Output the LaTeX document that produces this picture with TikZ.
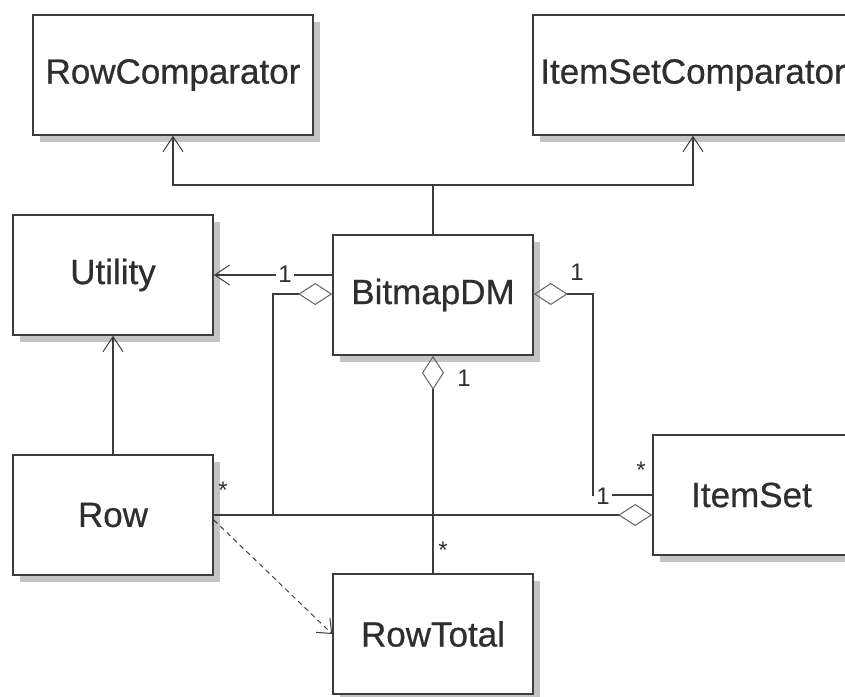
\documentclass[tikz,border=0pt]{standalone}
\usepackage{fontspec}
\setmainfont{Liberation Sans}
\newfontfamily\clsfont[FakeBold=0.6]{Liberation Sans}
\usetikzlibrary{arrows.meta,shadows}
\definecolor{ln}{HTML}{3C3C3C}
\definecolor{txt}{HTML}{2E2E2E}
\definecolor{shd}{HTML}{C4C4C4}
\tikzset{
  cls/.style={draw=ln, line width=1.6pt, fill=white, minimum height=120pt, minimum width=200pt,
    inner sep=0pt, text=txt, font=\clsfont\fontsize{35}{40}\selectfont,
    drop shadow={shadow xshift=7pt, shadow yshift=-7pt, fill=shd, opacity=1}},
  conn/.style={draw=ln, line width=1.3pt},
  navarrow/.style={conn, -{Straight Barb[length=15pt,width=20pt,line width=1pt]}},
  depline/.style={conn, line width=1pt, dash pattern=on 5pt off 4pt, -{Straight Barb[length=12pt,width=20pt,line width=1pt]}},
  aggstart/.style={conn, {Diamond[open,length=34pt,width=22pt,line width=1pt,color=ln!80]}-},
  aggend/.style={conn, -{Diamond[open,length=34pt,width=22pt,line width=1pt,color=ln!80]}},
  mult/.style={text=txt, font=\fontsize{24}{26}\selectfont, inner sep=1pt},
  multgap/.style={mult, fill=white, inner sep=2pt},
}
\begin{document}
\begin{tikzpicture}[x=1pt,y=-1pt]
\useasboundingbox (0,0) rectangle (845,696);
\fill[white] (0,0) rectangle (845,696);
\clip (0,0) rectangle (845,696);
% classes
\node[cls, minimum width=280pt] (rc) at (173,75) {RowComparator};
\node[cls, minimum width=320pt] (isc) at (693,75) {ItemSetComparator};
\node[cls] (util) at (113,275) {Utility};
\node[cls] (bdm) at (433,295) {BitmapDM};
\node[cls] (row) at (113,515) {Row};
\node[cls] (rt) at (433,634) {RowTotal};
\node[cls, minimum width=197pt] (is) at (751.5,495) {ItemSet};
% junction points
\coordinate (j) at (433,185);
\coordinate (k) at (273,515);
\coordinate (m) at (593,495);
% arrows to comparators
\draw[conn] (bdm.north) -- (j);
\draw[navarrow] (j) -| (rc.south);
\draw[navarrow] (j) -| (isc.south);
% BitmapDM -> Utility
\draw[navarrow] ([yshift=20pt]bdm.west) -- ([yshift=0pt]util.east);
\node[multgap] (l1) at (285,274) {1};
% Row -> Utility
\draw[navarrow] (row.north) -- (util.south);
% Row -- ItemSet aggregation
\draw[aggend] (row.east) -- (is.west |- row.east);
% Row -- BitmapDM aggregation
\draw[aggend] (k) |- ([yshift=1pt]bdm.west);
\node[mult] (s1) at (223,490) {*};
% ItemSet -- BitmapDM aggregation
\draw[aggstart] ([yshift=1pt]bdm.east) -| (m) -- (is.west);
\node[mult] (l2) at (577,272) {1};
\node[multgap] (l3) at (603,496) {1};
\node[mult] (s2) at (641,470) {*};
% RowTotal -- BitmapDM aggregation
\draw[aggstart] (bdm.south) -- (rt.north);
\node[mult] (l4) at (464,378) {1};
\node[mult] (s3) at (443,550) {*};
% Row ..> RowTotal dependency
\draw[depline] ([yshift=-5pt]row.east) -- (rt.west);
\end{tikzpicture}
\end{document}
